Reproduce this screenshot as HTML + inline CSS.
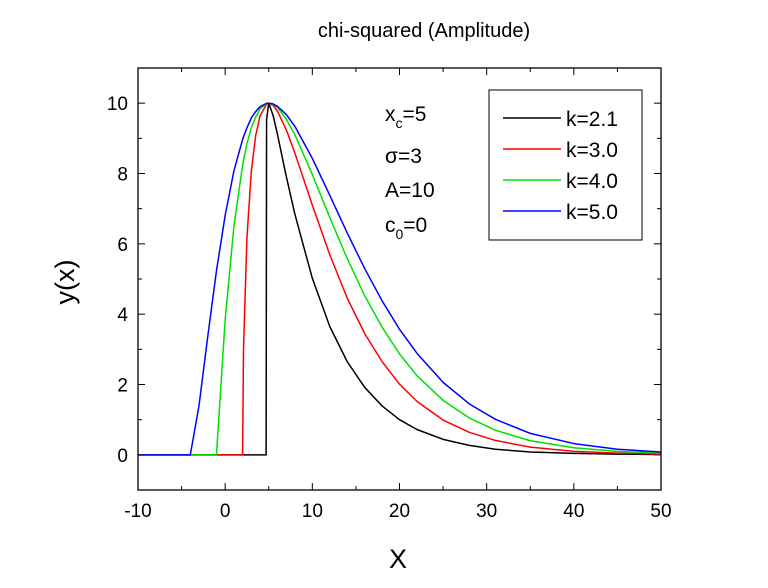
<!DOCTYPE html>
<html><head><meta charset="utf-8"><style>
body{margin:0;background:#fff;}
svg{display:block;font-family:"Liberation Sans",Arial,sans-serif;}
</style></head><body>
<svg id="chart" width="768" height="588">
<text x="424" y="37" font-size="20" text-anchor="middle">chi-squared (Amplitude)</text>
<text transform="translate(74,282) rotate(-90)" font-size="27" text-anchor="middle">y(x)</text>
<text x="398" y="568" font-size="27" text-anchor="middle">X</text>
<g id="ticks"></g>
<g id="series"></g>
<rect x="138" y="68" width="523" height="422" fill="none" stroke="#000" stroke-width="1.3"/>
<g font-size="21">
<text x="385" y="121">x<tspan font-size="14" dy="7">c</tspan><tspan dy="-7">=5</tspan></text>
<text x="385" y="163">σ=3</text>
<text x="385" y="197">A=10</text>
<text x="385" y="232">c<tspan font-size="14" dy="7">0</tspan><tspan dy="-7">=0</tspan></text>
</g>
<g id="legend">
<rect x="489" y="90" width="153" height="150" fill="#fff" stroke="#000" stroke-width="1"/>
</g>
</svg>
<script>
const xs = [-10,-4,-3,-2,-1,0,1,2,2.1,2.5,3,3.5,4,4.7,4.75,5,5.5,6,7,8,10,12,14,16,18,20,22,25,28,31,35,40,45,50];
const seriesNames = ["k=2.1","k=3.0","k=4.0","k=5.0"];
const seriesColors = ["#000000","#ff0000","#00e000","#0000ff"];
const yK21 = [0,0,0,0,0,0,0,0,0,0,0,0,0,0,9.53,10,9.65,9.11,7.93,6.84,5.02,3.65,2.65,1.92,1.39,1.00,0.72,0.44,0.27,0.16,0.08,0.04,0.02,0.01];
const yK30 = [0,0,0,0,0,0,0,0,2.96,6.19,8.06,9.08,9.64,9.95,9.97,10,9.94,9.77,9.25,8.58,7.10,5.69,4.46,3.45,2.65,2.01,1.52,0.99,0.64,0.41,0.22,0.10,0.05,0.02];
const yK40 = [0,0,0,0,0,3.84,6.49,8.24,8.37,8.85,9.30,9.60,9.84,9.98,9.99,10,9.97,9.88,9.55,9.10,7.97,6.75,5.58,4.53,3.63,2.87,2.25,1.55,1.05,0.70,0.40,0.20,0.10,0.05];
const yK50 = [0,0,1.40,3.36,5.23,6.81,8.07,8.97,9.04,9.30,9.58,9.76,9.90,9.99,9.99,10,9.98,9.91,9.68,9.34,8.43,7.38,6.31,5.30,4.38,3.57,2.89,2.06,1.45,1.01,0.61,0.32,0.16,0.08];
const xTicks = [-10,0,10,20,30,40,50];
const yTicks = [0,2,4,6,8,10];
const NS="http://www.w3.org/2000/svg";
const X0=138,X1=661,Y0=490,Y1=68,XMIN=-10,XMAX=50,YMIN=-1,YMAX=11;
const sx=v=>X0+(v-XMIN)/(XMAX-XMIN)*(X1-X0);
const sy=v=>Y0-(v-YMIN)/(YMAX-YMIN)*(Y0-Y1);
function mk(tag,attrs,parent){const e=document.createElementNS(NS,tag);for(const k in attrs)e.setAttribute(k,attrs[k]);parent.appendChild(e);return e;}
const tg=document.getElementById('ticks');
xTicks.forEach((v,i)=>{
  const x=sx(v);
  const t1=mk('line',{x1:x,x2:x,y1:Y0,y2:Y0-7,stroke:'#000'},tg);
  
  
  mk('line',{x1:x,x2:x,y1:Y1,y2:Y1+7,stroke:'#000'},tg);
  if(i<xTicks.length-1){const m=sx(v+5);mk('line',{x1:m,x2:m,y1:Y0,y2:Y0-4,stroke:'#000'},tg);mk('line',{x1:m,x2:m,y1:Y1,y2:Y1+4,stroke:'#000'},tg);}
  const t=mk('text',{x:x,y:Y0+27,'font-size':19,'text-anchor':'middle'},tg);
  t.textContent=v;
  
  
});
yTicks.forEach(v=>{
  const y=sy(v);
  mk('line',{x1:X0,x2:X0+7,y1:y,y2:y,stroke:'#000'},tg);
  mk('line',{x1:X1,x2:X1-7,y1:y,y2:y,stroke:'#000'},tg);
  const m=sy(v+1);
  mk('line',{x1:X0,x2:X0+4,y1:m,y2:m,stroke:'#000'},tg);
  mk('line',{x1:X1,x2:X1-4,y1:m,y2:m,stroke:'#000'},tg);
  const t=mk('text',{x:X0-10,y:y+7,'font-size':19,'text-anchor':'end'},tg);
  t.textContent=v;
  
  
});
const sg=document.getElementById('series');
[yK21,yK30,yK40,yK50].forEach((ys,i)=>{
  const d=xs.map((x,j)=>(j?'L':'M')+sx(x).toFixed(2)+','+sy(ys[j]).toFixed(2)).join(' ');
  const p=mk('path',{d:d,fill:'none',stroke:seriesColors[i],'stroke-width':1.5,'stroke-linejoin':'round'},sg);
  
  
});
const lg=document.getElementById('legend');
seriesNames.forEach((n,i)=>{
  const y=118+i*31;
  const l=mk('line',{x1:503,x2:561,y1:y,y2:y,stroke:seriesColors[i],'stroke-width':1.5},lg);
  
  
  const t=mk('text',{x:566,y:y+8,'font-size':21},lg);
  t.textContent=n;
  
  
});
</script>
</body></html>
